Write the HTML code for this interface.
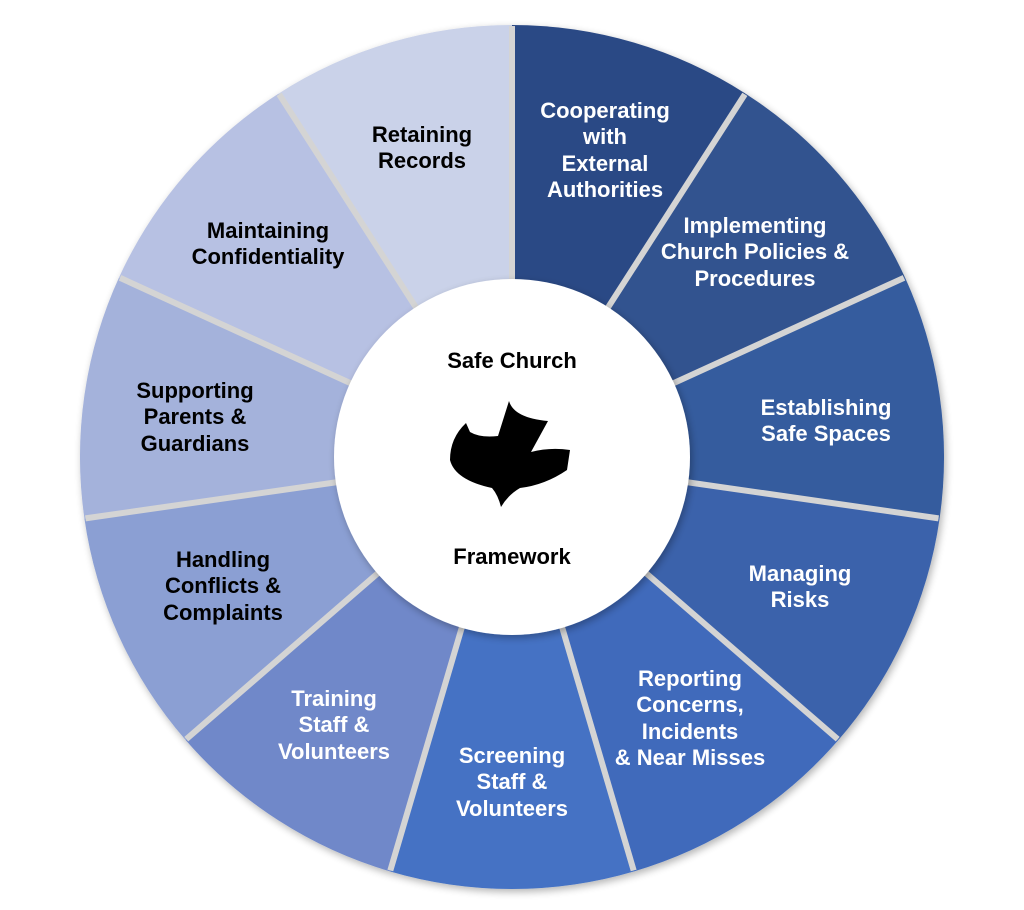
<!DOCTYPE html>
<html><head><meta charset="utf-8"><style>
html,body{margin:0;padding:0;background:#fff;width:1024px;height:910px;overflow:hidden}
text{font-family:"Liberation Sans",sans-serif;font-weight:bold;font-size:22px;text-anchor:middle}
</style></head><body>
<svg width="1024" height="910" viewBox="0 0 1024 910" xmlns="http://www.w3.org/2000/svg">
<defs>
<filter id="sh" x="-10%" y="-10%" width="120%" height="120%"><feGaussianBlur in="SourceAlpha" stdDeviation="4"/><feOffset dx="2" dy="3"/><feComponentTransfer><feFuncA type="linear" slope="0.3"/></feComponentTransfer><feMerge><feMergeNode/><feMergeNode in="SourceGraphic"/></feMerge></filter>
<clipPath id="c"><circle cx="512" cy="457" r="431"/></clipPath>
</defs>
<g filter="url(#sh)">
<g stroke="none">
<path d="M512,457 L512,25 A432,432 0 0 1 745.5,93.6 Z" fill="#2c4a85"/>
<path d="M512,457 L745.5,93.6 A432,432 0 0 1 905,277.5 Z" fill="#31538f"/>
<path d="M512,457 L905,277.5 A432,432 0 0 1 939.6,518.5 Z" fill="#355b9e"/>
<path d="M512,457 L939.6,518.5 A432,432 0 0 1 838.5,739.9 Z" fill="#3a62ab"/>
<path d="M512,457 L838.5,739.9 A432,432 0 0 1 633.7,871.5 Z" fill="#3f6bbb"/>
<path d="M512,457 L633.7,871.5 A432,432 0 0 1 390.3,871.5 Z" fill="#4472c4"/>
<path d="M512,457 L390.3,871.5 A432,432 0 0 1 185.5,739.9 Z" fill="#6f88c9"/>
<path d="M512,457 L185.5,739.9 A432,432 0 0 1 84.4,518.5 Z" fill="#8b9fd3"/>
<path d="M512,457 L84.4,518.5 A432,432 0 0 1 119,277.5 Z" fill="#a4b2db"/>
<path d="M512,457 L119,277.5 A432,432 0 0 1 278.5,93.6 Z" fill="#b7c1e3"/>
<path d="M512,457 L278.5,93.6 A432,432 0 0 1 512,25 Z" fill="#cad2e9"/>
</g>
</g>
<g stroke="#d4d4d4" stroke-width="6" clip-path="url(#c)">
<line x1="512" y1="457" x2="512" y2="22"/>
<line x1="512" y1="457" x2="747" y2="91"/>
<line x1="512" y1="457" x2="908" y2="276"/>
<line x1="512" y1="457" x2="943" y2="519"/>
<line x1="512" y1="457" x2="841" y2="742"/>
<line x1="512" y1="457" x2="635" y2="875"/>
<line x1="512" y1="457" x2="389" y2="875"/>
<line x1="512" y1="457" x2="183" y2="742"/>
<line x1="512" y1="457" x2="81" y2="519"/>
<line x1="512" y1="457" x2="116" y2="276"/>
<line x1="512" y1="457" x2="277" y2="91"/>
</g>
<circle cx="512" cy="457" r="178" fill="#fff" filter="url(#sh)"/>
<text x="512" y="368">Safe Church</text>
<text x="512" y="564">Framework</text>
<path d="M466,423 L470,432 Q480,438 498,436 L509,401 Q514,418 548,421 L531,452 Q550,447 570,450 L567,470 Q545,485 520,488 Q508,495 501,507 Q498,495 492,488 Q455,480 450,460 Q450,438 466,423 Z" fill="#000"/>
<g fill="#fff">
<text x="605" y="118">Cooperating</text><text x="605" y="144">with</text><text x="605" y="171">External</text><text x="605" y="197">Authorities</text>
<text x="755" y="233">Implementing</text><text x="755" y="259">Church Policies &amp;</text><text x="755" y="286">Procedures</text>
<text x="826" y="415">Establishing</text><text x="826" y="441">Safe Spaces</text>
<text x="800" y="581">Managing</text><text x="800" y="607">Risks</text>
<text x="690" y="686">Reporting</text><text x="690" y="712">Concerns,</text><text x="690" y="739">Incidents</text><text x="690" y="765">&amp; Near Misses</text>
<text x="512" y="763">Screening</text><text x="512" y="789">Staff &amp;</text><text x="512" y="816">Volunteers</text>
<text x="334" y="706">Training</text><text x="334" y="732">Staff &amp;</text><text x="334" y="759">Volunteers</text>
</g>
<g fill="#000">
<text x="223" y="567">Handling</text><text x="223" y="593">Conflicts &amp;</text><text x="223" y="620">Complaints</text>
<text x="195" y="398">Supporting</text><text x="195" y="424">Parents &amp;</text><text x="195" y="451">Guardians</text>
<text x="268" y="238">Maintaining</text><text x="268" y="264">Confidentiality</text>
<text x="422" y="142">Retaining</text><text x="422" y="168">Records</text>
</g>
</svg>
</body></html>
